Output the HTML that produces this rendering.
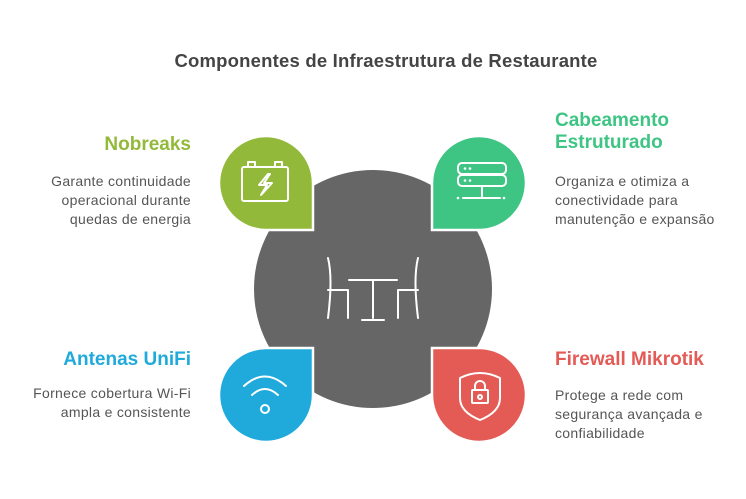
<!DOCTYPE html>
<html><head><meta charset="utf-8"><style>
body{margin:0;width:746px;height:499px;background:#fff;font-family:"Liberation Sans",sans-serif;position:relative;overflow:hidden}
.t{position:absolute;white-space:nowrap}
.h{font-weight:bold;font-size:19px;line-height:22px}
.b{font-size:14px;line-height:19px;color:#555;letter-spacing:0.3px}
.r{text-align:right}
</style></head><body>
<div class="t" style="left:13px;width:746px;top:50px;text-align:center;font-weight:bold;font-size:18.5px;letter-spacing:0.2px;color:#444">Componentes de Infraestrutura de Restaurante</div>
<svg width="746" height="499" style="position:absolute;left:0;top:0">
<circle cx="373" cy="289" r="119" fill="#666"/>
<g stroke="#fff" stroke-width="2.5">
<path d="M313,230 H265 A47,47 0 1 1 313,183 Z" fill="#93b93a"/>
<path d="M432,230 H480 A47,47 0 1 0 432,183 Z" fill="#3ec584"/>
<path d="M313,348 H265 A47,47 0 1 0 313,395 Z" fill="#20aadb"/>
<path d="M432,348 H480 A47,47 0 1 1 432,395 Z" fill="#e45a55"/>
</g>
<g fill="none" stroke="#fff" stroke-width="2" stroke-linecap="round" stroke-linejoin="round">
<rect x="242" y="167" width="46" height="34" rx="2"/><path d="M248,167v-5h7v5M275,167v-5h7v5"/>
<path d="M268,174l-9,11h8l-6,10l11-12h-8l6-9z"/>
<rect x="458" y="163" width="48" height="11" rx="4"/><rect x="458" y="175" width="48" height="11" rx="4"/>
<path d="M482,186v12M463,198h37"/>
<path d="M328,258q5,20 0,60M328,290h20v28M418,258q-5,20 0,60M418,290h-20v28M349,280h48M373,280v38M362,320h22"/>
<path d="M244,386q21,-19 42,0M252,395q13,-12 26,0"/><circle cx="265" cy="409" r="4"/>
<path d="M460,378q20,-10 40,0v20q0,14 -20,22q-20,-8 -20,-22z"/>
<rect x="472" y="390" width="16" height="13" rx="1"/><path d="M475,390v-4a5,5 0 0 1 10,0v4"/><circle cx="480" cy="397" r="2"/>
</g>
<g fill="#fff"><circle cx="465" cy="168.5" r="1.3"/><circle cx="470" cy="168.5" r="1.3"/><circle cx="465" cy="180.5" r="1.3"/><circle cx="470" cy="180.5" r="1.3"/>
<circle cx="458" cy="198" r="1.3"/><circle cx="504" cy="198" r="1.3"/></g>
</svg>
<div class="t h r" style="right:555px;top:134px;color:#93b93a">Nobreaks</div>
<div class="t b r" style="right:555px;top:172px">Garante continuidade<br>operacional durante<br>quedas de energia</div>
<div class="t h" style="left:555px;top:110px;color:#3ec584">Cabeamento<br>Estruturado</div>
<div class="t b" style="left:555px;top:172px">Organiza e otimiza a<br>conectividade para<br>manutenção e expansão</div>
<div class="t h r" style="right:555px;top:349px;color:#20aadb">Antenas UniFi</div>
<div class="t b r" style="right:555px;top:384px">Fornece cobertura Wi-Fi<br>ampla e consistente</div>
<div class="t h" style="left:555px;top:349px;color:#e45a55">Firewall Mikrotik</div>
<div class="t b" style="left:555px;top:386px">Protege a rede com<br>segurança avançada e<br>confiabilidade</div>
</body></html>
